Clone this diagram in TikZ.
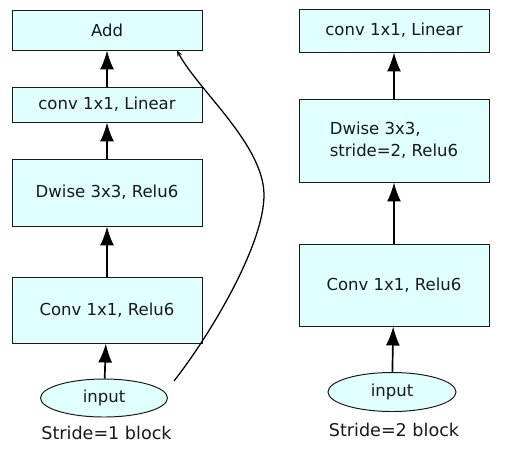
\documentclass[tikz,border=0pt]{standalone}
\usepackage{fontspec}
\setmainfont{DejaVu Sans}
\usetikzlibrary{arrows.meta, shapes.geometric}
\definecolor{boxcyan}{RGB}{224,255,255}
\definecolor{ink}{RGB}{25,25,25}

\begin{document}
\begin{tikzpicture}[x=5mm, y=-5mm, font=\fontsize{23.5}{31.7}\selectfont, text=ink,
  layer/.style={draw=ink, line width=1.4pt, fill=boxcyan, minimum width=9.5cm, inner sep=0pt},
  inbox/.style={ellipse, draw=ink, line width=1.4pt, fill=boxcyan, inner sep=0pt},
  flow/.style={line width=2.4pt, -{Latex[length=9.5mm, width=7mm]}},
  caption/.style={font=\fontsize{25}{30}\selectfont}]

  \useasboundingbox (0,0) rectangle (51.1,46.1);

  \node[layer, minimum height=2cm] (add) at (10.7,3.0) {Add};
  \node[layer, minimum height=1.75cm] (linL) at (10.7,10.45) {conv 1x1, Linear};
  \node[layer, minimum height=3.35cm] (dwL) at (10.7,19.25) {Dwise 3x3, Relu6};
  \node[layer, minimum height=3.3cm] (convL) at (10.7,31.0) {Conv 1x1, Relu6};
  \node[inbox, minimum width=6.35cm, minimum height=1.9cm] (inL) at (10.4,39.8) {input};
  \node[caption] (capL) at (10.65,43.3) {Stride=1 block};

  \draw[flow] (inL) -- (convL);
  \draw[flow] (convL) -- (dwL);
  \draw[flow] (dwL) -- (linL);
  \draw[flow] (linL) -- (add);

  \coordinate (skip) at (17.4,38.1);
  \draw[line width=1.8pt, -{Stealth[length=3mm, width=2.5mm]}] (skip)
    .. controls (21,33.5) and (26.4,24.5) .. (26.4,19.5)
    .. controls (26.4,14.5) and (19.8,9) .. ([xshift=3.5cm]add.south);

  \node[layer, minimum height=2.15cm] (linR) at (39.4,3.05) {conv 1x1, Linear};
  \node[layer, minimum height=4.15cm, align=left] (dwR) at (39.4,14.05) {Dwise 3x3,\\stride=2, Relu6};
  \node[layer, minimum height=4.1cm] (convR) at (39.4,28.5) {Conv 1x1, Relu6};
  \node[inbox, minimum width=6.4cm, minimum height=1.95cm] (inR) at (39.2,39.2) {input};
  \node[caption] (capR) at (39.4,43.0) {Stride=2 block};

  \draw[flow] (inR) -- (convR);
  \draw[flow] (convR) -- (dwR);
  \draw[flow] (dwR) -- (linR);

\end{tikzpicture}
\end{document}
